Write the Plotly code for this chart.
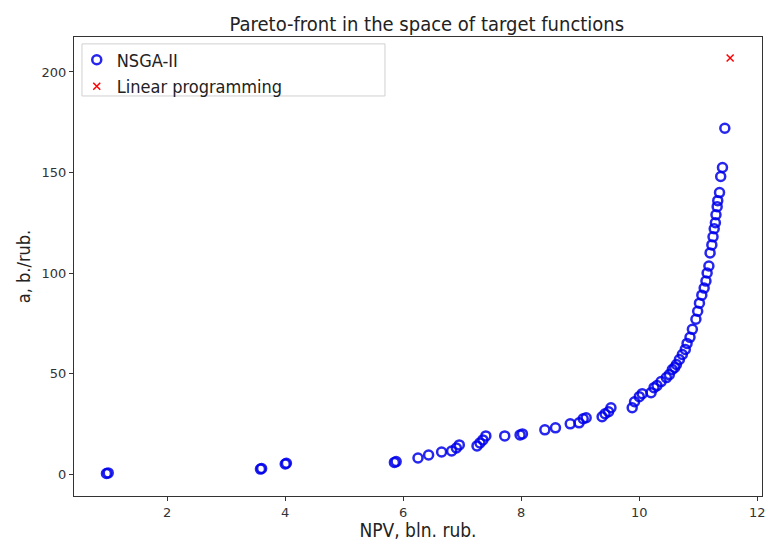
import plotly.graph_objects as go

nsga_npv = [0.97, 1.0, 3.58, 3.6, 4.0, 4.02, 5.85, 5.88, 6.25, 6.43, 6.65, 6.82, 6.9, 6.95,
            7.25, 7.3, 7.35, 7.4, 7.72, 7.98, 8.02, 8.4, 8.58, 8.83, 8.98, 9.05, 9.1, 9.37,
            9.42, 9.48, 9.52, 9.88, 9.92, 10.0, 10.05, 10.2, 10.25, 10.3, 10.37, 10.46, 10.51,
            10.56, 10.6, 10.63, 10.68, 10.73, 10.78, 10.81, 10.86, 10.9, 10.96, 10.99, 11.02,
            11.06, 11.1, 11.13, 11.15, 11.18, 11.2, 11.23, 11.25, 11.27, 11.29, 11.3, 11.32,
            11.33, 11.36, 11.38, 11.41, 11.45]
nsga_ab = [0.3, 0.6, 2.5, 2.8, 5.0, 5.4, 5.8, 6.2, 8, 9.5, 11, 11.5, 13, 14.5,
           14, 15.5, 17, 19, 19, 19.5, 20, 22, 23, 25, 25.5, 27.5, 28, 28.5,
           30, 31, 33, 33, 36, 38.5, 40, 40.5, 43, 44, 46, 48, 49.5,
           52, 53, 54.5, 57, 59.5, 62, 65, 68, 72, 77, 81, 85,
           89, 92.5, 96, 100, 103.5, 110, 114, 118, 122, 125, 129, 133,
           136, 140, 148, 152.5, 172]
lp_npv = [11.54]
lp_ab = [207]

x_ticks = [2, 4, 6, 8, 10, 12]
y_ticks = [0, 50, 100, 150, 200]

cond = "DejaVu Sans Condensed, Liberation Sans Narrow, sans-serif"

fig = go.Figure()
fig.add_trace(go.Scatter(
    x=nsga_npv, y=nsga_ab, mode="markers", name="NSGA-II",
    marker=dict(symbol="circle-open", size=9, color="rgba(0,0,235,0.85)",
                line=dict(width=2.5)),
))
fig.add_trace(go.Scatter(
    x=lp_npv, y=lp_ab, mode="markers", name="Linear programming",
    marker=dict(symbol="x-thin-open", size=7, color="red", line=dict(width=1.5, color="red")),
))

axis_common = dict(showline=True, mirror=True, linecolor="#333", linewidth=1,
                   ticks="outside", ticklen=4, tickcolor="#333", showgrid=False,
                   zeroline=False, ticklabeloverflow="allow", automargin=False,
                   tickfont=dict(family="DejaVu Sans", size=13, color="#333"))
fig.update_xaxes(range=[0.42, 12.08], tickvals=x_ticks,
                 title=dict(text="NPV, bln. rub.", font=dict(family=cond, size=19, color="#222"),
                            standoff=6),
                 **axis_common)
fig.update_yaxes(range=[-10.9, 217.4], tickvals=y_ticks,
                 title=dict(text="a, b./rub.", font=dict(family=cond, size=18, color="#222"),
                            standoff=6),
                 **axis_common)

# legend frame
fig.add_shape(type="rect", xref="paper", yref="paper",
              x0=0.0116, x1=0.452, y0=0.8715, y1=0.985,
              line=dict(color="#d0d0d0", width=1), fillcolor="white", layer="above")

fig.update_layout(
    width=765, height=541,
    margin=dict(l=74, r=3, t=37, b=45),
    paper_bgcolor="white", plot_bgcolor="white",
    title=dict(text="Pareto-front in the space of target functions",
               font=dict(family=cond, size=20, color="#222"),
               x=0.558, xanchor="center", y=0.955, yanchor="middle"),
    legend=dict(x=0.004, y=0.99, xanchor="left", yanchor="top",
                bgcolor="rgba(0,0,0,0)", borderwidth=0,
                font=dict(family=cond, size=18, color="#222"),
                itemwidth=30, tracegroupgap=0),
    showlegend=True,
)

fig.write_html("out.html")
